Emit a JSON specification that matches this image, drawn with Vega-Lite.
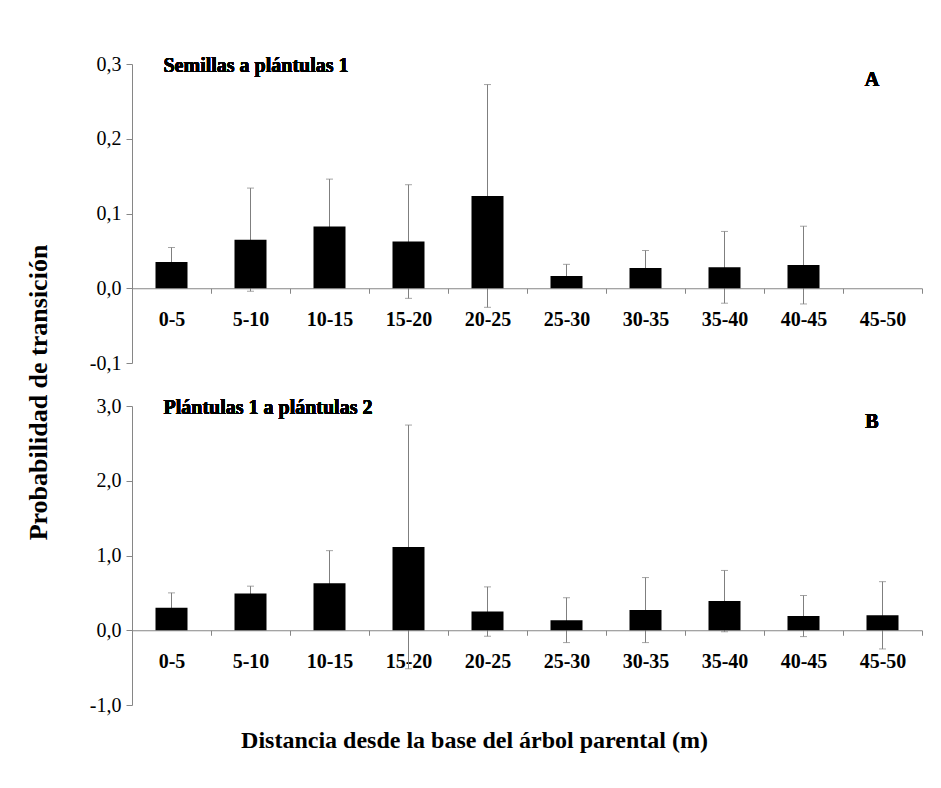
{
  "$schema": "https://vega.github.io/schema/vega-lite/v6.json",
  "background": "white",
  "padding": {"left": 25, "top": 54, "right": 19, "bottom": 10},
  "config": {
    "font": "Liberation Serif",
    "view": {"stroke": null},
    "locale": {"number": {"decimal": ",", "thousands": ".", "grouping": [3], "currency": ["", ""], "minus": "-"}},
    "axis": {
      "domainColor": "#868686",
      "tickColor": "#868686",
      "labelColor": "black",
      "titleColor": "black",
      "labelFont": "Liberation Serif",
      "titleFont": "Liberation Serif",
      "grid": false
    }
  },
  "spacing": 43,
  "bounds": "flush",
  "vconcat": [
    {
      "width": 790,
      "height": 299,
      "data": {"values": [
        {"dist": "0-5", "p": 0.035, "err": 0.0195},
        {"dist": "5-10", "p": 0.065, "err": 0.069},
        {"dist": "10-15", "p": 0.0825, "err": 0.0635},
        {"dist": "15-20", "p": 0.0625, "err": 0.076},
        {"dist": "20-25", "p": 0.1235, "err": 0.149},
        {"dist": "25-30", "p": 0.0165, "err": 0.0155},
        {"dist": "30-35", "p": 0.027, "err": 0.0235},
        {"dist": "35-40", "p": 0.028, "err": 0.048},
        {"dist": "40-45", "p": 0.031, "err": 0.052}
      ]},
      "encoding": {
        "x": {
          "field": "dist", "type": "nominal", "sort": null,
          "scale": {"domain": ["0-5", "5-10", "10-15", "15-20", "20-25", "25-30", "30-35", "35-40", "40-45", "45-50"], "paddingInner": 0, "paddingOuter": 0},
          "axis": {"title": null, "tickBand": "extent", "offset": -74.75, "labelAngle": 0, "labelFontSize": 20, "labelFontWeight": "bold", "tickSize": 5, "labelPadding": 16}
        },
        "y": {
          "field": "p", "type": "quantitative",
          "scale": {"domain": [-0.1, 0.3], "nice": false, "zero": false},
          "axis": {
            "values": [-0.1, 0, 0.1, 0.2, 0.3], "format": ".1f", "tickSize": 6, "labelPadding": 5, "labelFontSize": 20,
            "title": "Probabilidad de transición", "titleFontSize": 26, "titleFontWeight": "bold",
            "titleX": -94, "titleY": 328, "titleBaseline": "middle", "titleAngle": -90, "titleAlign": "center"
          }
        }
      },
      "layer": [
        {"mark": {"type": "errorbar", "color": "#7f7f7f", "ticks": {"size": 7, "thickness": 1}, "rule": {"strokeWidth": 1}}, "encoding": {"yError": {"field": "err"}}},
        {"mark": {"type": "bar", "color": "black", "width": 32}},
        {"mark": {"type": "text", "align": "left", "baseline": "middle", "fontSize": 20, "fontWeight": "bold", "dx": -8, "dy": 1.5}, "encoding": {"x": {"datum": "0-5"}, "y": {"datum": 0.3}, "text": {"value": "Semillas a plántulas 1"}}},
        {"mark": {"type": "text", "align": "center", "baseline": "middle", "fontSize": 20, "fontWeight": "bold", "dx": -10.5, "dy": 16}, "encoding": {"x": {"datum": "45-50"}, "y": {"datum": 0.3}, "text": {"value": "A"}}}
      ]
    },
    {
      "width": 790,
      "height": 299,
      "data": {"values": [
        {"dist": "0-5", "p": 0.30, "err": 0.20},
        {"dist": "5-10", "p": 0.49, "err": 0.10},
        {"dist": "10-15", "p": 0.63, "err": 0.435},
        {"dist": "15-20", "p": 1.115, "err": 1.63},
        {"dist": "20-25", "p": 0.25, "err": 0.33},
        {"dist": "25-30", "p": 0.135, "err": 0.30},
        {"dist": "30-35", "p": 0.27, "err": 0.435},
        {"dist": "35-40", "p": 0.39, "err": 0.41},
        {"dist": "40-45", "p": 0.19, "err": 0.275},
        {"dist": "45-50", "p": 0.20, "err": 0.45}
      ]},
      "encoding": {
        "x": {
          "field": "dist", "type": "nominal", "sort": null,
          "scale": {"domain": ["0-5", "5-10", "10-15", "15-20", "20-25", "25-30", "30-35", "35-40", "40-45", "45-50"], "paddingInner": 0, "paddingOuter": 0},
          "axis": {
            "tickBand": "extent", "offset": -74.75, "labelAngle": 0, "labelFontSize": 20, "labelFontWeight": "bold", "tickSize": 5, "labelPadding": 16,
            "title": "Distancia desde la base del árbol parental (m)", "titleFontSize": 24, "titleFontWeight": "bold",
            "titleX": 342, "titleY": 110, "titleBaseline": "middle", "titleAlign": "center"
          }
        },
        "y": {
          "field": "p", "type": "quantitative",
          "scale": {"domain": [-1, 3], "nice": false, "zero": false},
          "axis": {"values": [-1, 0, 1, 2, 3], "format": ".1f", "tickSize": 6, "labelPadding": 5, "labelFontSize": 20, "title": null}
        }
      },
      "layer": [
        {"mark": {"type": "errorbar", "color": "#7f7f7f", "ticks": {"size": 7, "thickness": 1}, "rule": {"strokeWidth": 1}}, "encoding": {"yError": {"field": "err"}}},
        {"mark": {"type": "bar", "color": "black", "width": 32}},
        {"mark": {"type": "text", "align": "left", "baseline": "middle", "fontSize": 20, "fontWeight": "bold", "dx": -8, "dy": 1.5}, "encoding": {"x": {"datum": "0-5"}, "y": {"datum": 3}, "text": {"value": "Plántulas 1 a plántulas 2"}}},
        {"mark": {"type": "text", "align": "center", "baseline": "middle", "fontSize": 20, "fontWeight": "bold", "dx": -10.5, "dy": 16}, "encoding": {"x": {"datum": "45-50"}, "y": {"datum": 3}, "text": {"value": "B"}}}
      ]
    }
  ]
}
